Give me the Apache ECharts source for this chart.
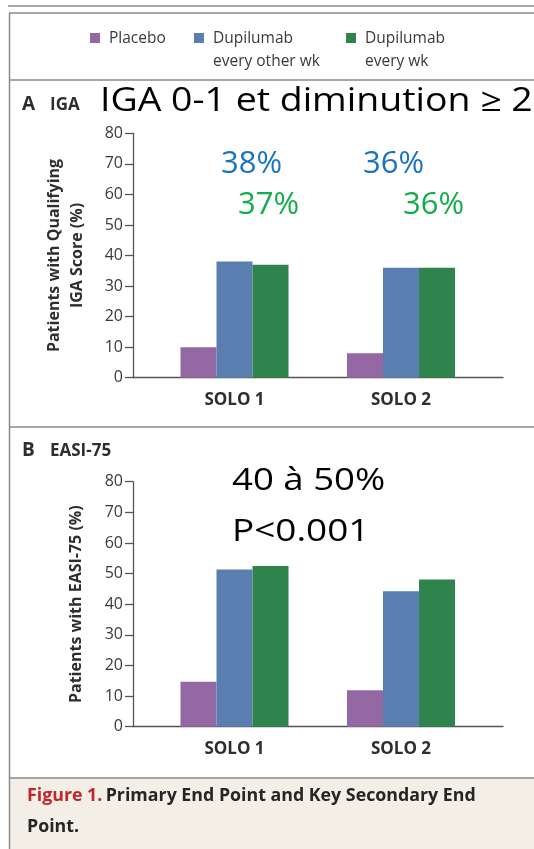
<!DOCTYPE html>
<html>
<head>
<meta charset="utf-8">
<script src="https://cdn.jsdelivr.net/npm/echarts@6/dist/echarts.min.js"></script>
<style>
  html, body { margin: 0; padding: 0; background: #ffffff; }
  #chart { width: 534px; height: 849px; }
</style>
</head>
<body>
<div id="chart"></div>
<script>
// Trials on the category axis
const studies = ['SOLO 1', 'SOLO 2'];

// Treatment groups (legend order)
const groupNames = ['Placebo', 'Dupilumab\nevery other wk', 'Dupilumab\nevery wk'];
const groupColors = ['#9469a3', '#5b7eb1', '#2f834c'];

// Panel A: patients with qualifying IGA score (%), per group, per trial
const igaPlacebo = [10, 8];
const igaEveryOtherWk = [38, 36];
const igaEveryWk = [37, 36];

// Panel B: patients with EASI-75 (%), per group, per trial
const easiPlacebo = [14.7, 11.9];
const easiEveryOtherWk = [51.3, 44.2];
const easiEveryWk = [52.5, 48.1];

// Shared value-axis ticks
const yTicks = [0, 10, 20, 30, 40, 50, 60, 70, 80];

const chart = echarts.init(document.getElementById('chart'), null, { renderer: 'canvas' });

const labelFont = '"Open Sans", "Noto Sans", sans-serif';
const calloutFont = '"Open Sans", "Noto Sans", sans-serif';
const inkColor = '#2e2e2e';

// panel geometry
const panels = [
  { top: 133.3, height: 244.4, name: 'Patients with Qualifying\nIGA Score (%)', nameGap: 44 },
  { top: 481.7, height: 245, name: 'Patients with EASI-75 (%)', nameGap: 45 }
];
const frameLeft = 133, frameWidth = 370;
const barLeft = 151.25, barWidth = 333;
const tickLen = 8;

const grids = [];
const xAxes = [];
const yAxes = [];
panels.forEach((p) => {
  // frame grid: carries the visible y axis and the long baseline
  grids.push({ left: frameLeft, top: p.top, width: frameWidth, height: p.height, containLabel: false });
  // bar grid: carries the bars and the study labels
  grids.push({ left: barLeft, top: p.top, width: barWidth, height: p.height, containLabel: false });
  const gi = grids.length - 2;
  xAxes.push({
    gridIndex: gi, type: 'value', min: 0, max: 1,
    axisLine: { show: true, onZero: false, lineStyle: { color: '#555', width: 1.3 } },
    axisTick: { show: false }, axisLabel: { show: false }, splitLine: { show: false }
  });
  xAxes.push({
    gridIndex: gi + 1, type: 'category', data: studies,
    axisLine: { show: false }, axisTick: { show: false },
    axisLabel: { margin: 14, fontFamily: labelFont, fontWeight: 'bold', fontSize: 17, color: inkColor }
  });
  yAxes.push({
    gridIndex: gi, type: 'value', min: yTicks[0], max: yTicks[yTicks.length - 1], interval: yTicks[1] - yTicks[0],
    axisLine: { show: true, lineStyle: { color: '#555', width: 1.3 } },
    axisTick: { show: true, length: tickLen, inside: false, lineStyle: { color: '#555', width: 1.3 } },
    axisLabel: { margin: tickLen + 2, fontFamily: labelFont, fontSize: 16, color: '#3a3a3a' },
    splitLine: { show: false },
    name: p.name, nameLocation: 'middle', nameRotate: 90, nameGap: p.nameGap,
    nameTextStyle: { fontFamily: labelFont, fontWeight: 'bold', fontSize: 16, color: inkColor, lineHeight: 23, align: 'center' }
  });
  yAxes.push({
    gridIndex: gi + 1, type: 'value', min: yTicks[0], max: yTicks[yTicks.length - 1], show: false
  });
});

function barSeries(values, idx, axisIdx) {
  return {
    type: 'bar', name: groupNames[idx], data: values,
    xAxisIndex: axisIdx, yAxisIndex: axisIdx,
    barWidth: 36, barGap: '0%',
    itemStyle: { color: groupColors[idx] },
    silent: true
  };
}

const series = [
  barSeries(igaPlacebo, 0, 1), barSeries(igaEveryOtherWk, 1, 1), barSeries(igaEveryWk, 2, 1),
  barSeries(easiPlacebo, 0, 3), barSeries(easiEveryOtherWk, 1, 3), barSeries(easiEveryWk, 2, 3)
];

// legend drawn as swatch + (possibly two-line) text, swatch aligned with first line
const legendX = [90, 194, 346];
const legendItems = [];
groupNames.forEach((n, i) => {
  legendItems.push({ type: 'rect', shape: { x: legendX[i], y: 33, width: 10, height: 10 }, style: { fill: groupColors[i] } });
  legendItems.push({
    type: 'text', x: legendX[i] + 19, y: 27,
    style: { text: n, font: '15.5px ' + labelFont, fill: '#3a3a3a', lineHeight: 23, verticalAlign: 'top' }
  });
});

const frameColor = '#8a8a8a';
const graphics = [
  // caption background
  { type: 'rect', shape: { x: 9, y: 778, width: 534, height: 80 }, style: { fill: '#f3eee6' } },
  // frame lines
  { type: 'line', shape: { x1: 8, y1: 6, x2: 534, y2: 6 }, style: { stroke: frameColor, lineWidth: 1.5 } },
  { type: 'line', shape: { x1: 9, y1: 13, x2: 534, y2: 13 }, style: { stroke: frameColor, lineWidth: 1.5 } },
  { type: 'line', shape: { x1: 9.5, y1: 13, x2: 9.5, y2: 849 }, style: { stroke: frameColor, lineWidth: 1.5 } },
  { type: 'line', shape: { x1: 9, y1: 80, x2: 534, y2: 80 }, style: { stroke: frameColor, lineWidth: 1.5 } },
  { type: 'line', shape: { x1: 9, y1: 427, x2: 534, y2: 427 }, style: { stroke: frameColor, lineWidth: 1.5 } },
  { type: 'line', shape: { x1: 9, y1: 778, x2: 534, y2: 778 }, style: { stroke: frameColor, lineWidth: 1.5 } },
  // panel headings
  { type: 'text', x: 22, y: 114, style: { text: 'A', font: 'bold 19px ' + labelFont, fill: inkColor, verticalAlign: 'bottom' } },
  { type: 'text', x: 50, y: 114, style: { text: 'IGA', font: 'bold 17px ' + labelFont, fill: inkColor, verticalAlign: 'bottom' } },
  { type: 'text', x: 22, y: 460, style: { text: 'B', font: 'bold 19px ' + labelFont, fill: inkColor, verticalAlign: 'bottom' } },
  { type: 'text', x: 50, y: 460, style: { text: 'EASI-75', font: 'bold 17px ' + labelFont, fill: inkColor, verticalAlign: 'bottom' } },
  // callouts
  { type: 'text', x: 100, y: 101.5, scaleX: 1.17, style: { text: 'IGA 0-1 et diminution ≥ 2', font: '32px ' + calloutFont, fill: '#000', verticalAlign: 'middle' } },
  { type: 'text', x: 221, y: 164, style: { text: igaEveryOtherWk[0] + '%', font: '31px ' + calloutFont, fill: '#1a72c4', verticalAlign: 'middle' } },
  { type: 'text', x: 363, y: 164, style: { text: igaEveryOtherWk[1] + '%', font: '31px ' + calloutFont, fill: '#1a72c4', verticalAlign: 'middle' } },
  { type: 'text', x: 238, y: 205, style: { text: igaEveryWk[0] + '%', font: '31px ' + calloutFont, fill: '#12ad4d', verticalAlign: 'middle' } },
  { type: 'text', x: 403, y: 205, style: { text: igaEveryWk[1] + '%', font: '31px ' + calloutFont, fill: '#12ad4d', verticalAlign: 'middle' } },
  { type: 'text', x: 232, y: 481, scaleX: 1.18, style: { text: '40 à 50%', font: '31px ' + calloutFont, fill: '#000', verticalAlign: 'middle' } },
  { type: 'text', x: 232, y: 532, scaleX: 1.19, style: { text: 'P<0.001', font: '31px ' + calloutFont, fill: '#000', verticalAlign: 'middle' } },
  // caption
  {
    type: 'text', x: 27, y: 780,
    style: {
      text: '{r|Figure 1.} {b|Primary End Point and Key Secondary End}\n{b|Point.}',
      verticalAlign: 'top', lineHeight: 31,
      rich: {
        r: { font: 'bold 17.8px ' + labelFont, fill: '#c0262d', lineHeight: 31 },
        b: { font: 'bold 17.8px ' + labelFont, fill: '#252525', lineHeight: 31 }
      }
    }
  }
].concat(legendItems);

chart.setOption({
  animation: false,
  backgroundColor: '#ffffff',
  grid: grids,
  xAxis: xAxes,
  yAxis: yAxes,
  series: series,
  graphic: { elements: graphics }
});
</script>
</body>
</html>
